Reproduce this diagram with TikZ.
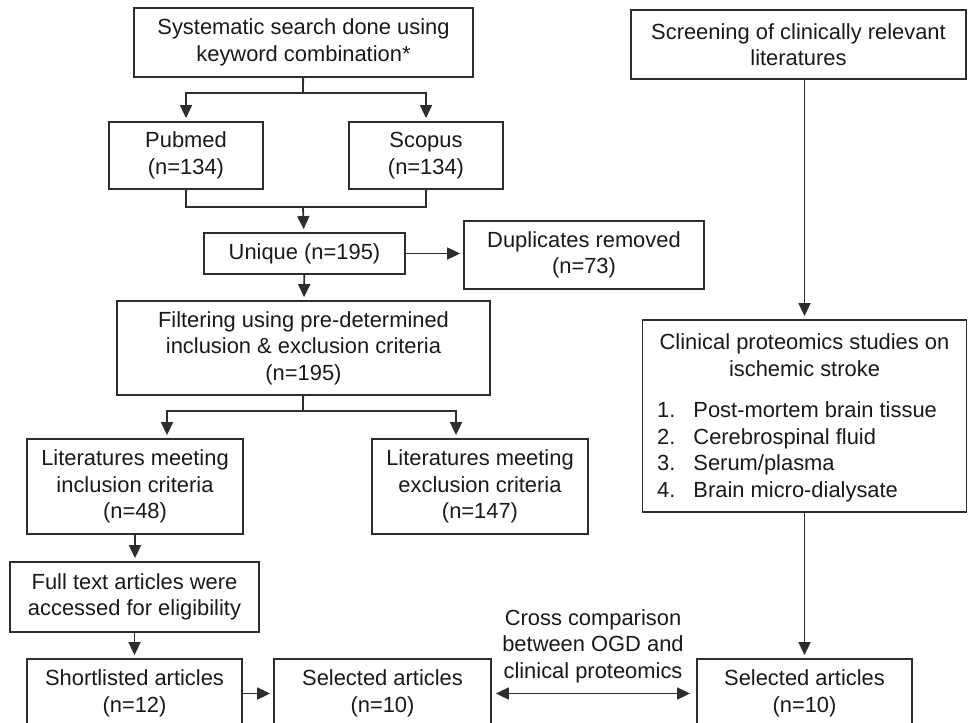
\documentclass[tikz,border=0pt]{standalone}
\usepackage{fontspec}
\setmainfont{Liberation Sans}
\usetikzlibrary{arrows.meta}
\definecolor{linec}{RGB}{45,45,45}
\definecolor{textc}{RGB}{25,25,25}
\tikzset{
  box/.style={draw=linec, line width=1.8pt, align=center, inner sep=0pt, text=textc},
  ln/.style={draw=linec, line width=1.8pt},
  arr/.style={ln, -{Triangle[length=13pt,width=12pt]}, shorten >=3pt},
  arrtwo/.style={ln, {Triangle[length=13pt,width=12pt]}-{Triangle[length=13pt,width=12pt]}, shorten <=4pt, shorten >=6pt},
}

\begin{document}
\begin{tikzpicture}[x=1pt, y=-1pt, font=\fontsize{21.9}{26.5}\selectfont]
    \useasboundingbox (0,0) rectangle (968,722);
    \clip (0,0) rectangle (968,722);
    \node[box, minimum width=339pt, minimum height=69pt] (search) at (303.5,42.5) {Systematic search done using\\keyword combination*};
    \node[box, minimum width=154pt, minimum height=67pt] (pubmed) at (186,155.5) {Pubmed\\(n=134)};
    \node[box, minimum width=154pt, minimum height=67pt] (scopus) at (426,155.5) {Scopus\\(n=134)};
    \node[box, minimum width=201pt, minimum height=41pt] (unique) at (304.5,253.5) {Unique (n=195)};
    \node[box, minimum width=240pt, minimum height=68pt] (dup) at (584,255) {Duplicates removed\\(n=73)};
    \node[box, minimum width=373pt, minimum height=94pt] (filter) at (303.5,348) {Filtering using pre-determined\\inclusion \& exclusion criteria\\(n=195)};
    \node[box, minimum width=216pt, minimum height=95pt] (incl) at (135,486.5) {Literatures meeting\\inclusion criteria\\(n=48)};
    \node[box, minimum width=216pt, minimum height=95pt] (excl) at (480,486.5) {Literatures meeting\\exclusion criteria\\(n=147)};
    \node[box, minimum width=249pt, minimum height=70pt] (full) at (134.5,597) {Full text articles were\\accessed for eligibility};
    \node[box, minimum width=215pt, minimum height=69pt] (short) at (134.5,693.5) {Shortlisted articles\\(n=12)};
    \node[box, minimum width=217pt, minimum height=69pt] (selone) at (382.5,693.5) {Selected articles\\(n=10)};
    \node[box, minimum width=215pt, minimum height=69pt] (seltwo) at (804.5,693.5) {Selected articles\\(n=10)};
    \node[box, minimum width=335pt, minimum height=69pt] (screen) at (798.5,44.5) {Screening of clinically relevant\\literatures};
    \node[box, minimum width=324pt, minimum height=192pt] (clin) at (804.5,416) {};
    \node[align=center, text=textc] (cltitle) at (804.5,355) {Clinical proteomics studies on\\ischemic stroke};
    \node[anchor=west, align=left, text=textc, inner sep=0pt] (cllist) at (657,452) {%
      \begin{tabular}{@{}l@{\hspace{18pt}}l@{}}
        1. & Post-mortem brain tissue\\
        2. & Cerebrospinal fluid\\
        3. & Serum/plasma\\
        4. & Brain micro-dialysate
      \end{tabular}};
    \node[align=center, text=textc] (cross) at (593,646) {Cross comparison\\between OGD and\\clinical proteomics};

    \coordinate (splitone) at (303,93);
    \coordinate (merge) at (303,207);
    \coordinate (splittwo) at (303,411);
    \draw[ln] (search) -- (splitone);
    \draw[arr] (splitone) -| (pubmed);
    \draw[arr] (splitone) -| (scopus);
    \draw[ln] (pubmed) |- (merge) -| (scopus);
    \draw[arr] (merge) -- (unique);
    \draw[arr] (unique.east) -- (unique.east -| dup.west);
    \draw[arr] (unique) -- (filter);
    \draw[ln] (filter) -- (splittwo);
    \draw[arr] (splittwo) -| ([xshift=32pt]incl.north);
    \draw[arr] (splittwo) -| ([xshift=-24pt]excl.north);
    \draw[arr] (incl.south) -- (incl.south |- full.north);
    \draw[arr] (full) -- (short);
    \draw[arr] (short) -- (selone);
    \draw[arrtwo] (selone) -- (seltwo);
    \draw[arr] (clin.north |- screen.south) -- (clin.north);
    \draw[arr] (clin) -- (seltwo);
\end{tikzpicture}
\end{document}
